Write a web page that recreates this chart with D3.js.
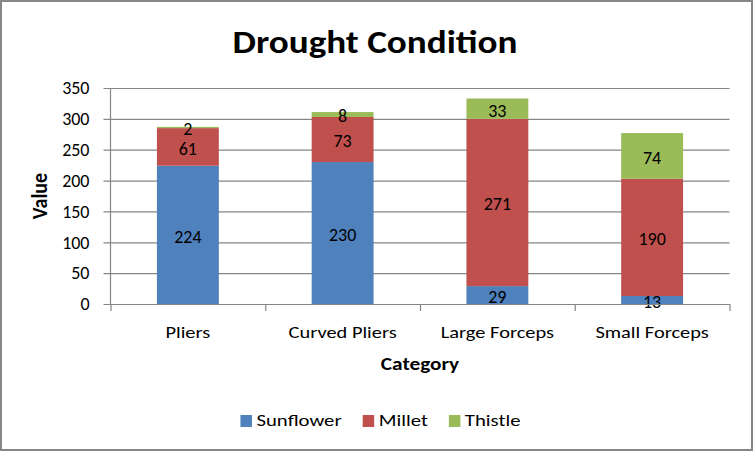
<!DOCTYPE html>
<html>
<head>
<meta charset="utf-8">
<script src="https://cdn.jsdelivr.net/npm/d3@7"></script>
<style>
  html, body { margin: 0; padding: 0; background: #fff; }
  svg { display: block; font-family: "Carlito", "Calibri", "Lato", sans-serif; }
</style>
</head>
<body>
<svg id="chart" width="753" height="451"></svg>
<script>
const categories = ["Pliers", "Curved Pliers", "Large Forceps", "Small Forceps"];
const seriesNames = ["Sunflower", "Millet", "Thistle"];
const sunflower = [224, 230, 29, 13];
const millet = [61, 73, 271, 190];
const thistle = [2, 8, 33, 74];
const yTicks = [0, 50, 100, 150, 200, 250, 300, 350];
const colors = ["#4F81BD", "#C0504D", "#9BBB59"];

const W = 753, H = 451;
const M = { left: 110.5, right: 729.5, top: 88, bottom: 304 };
const FONT = "Carlito, Calibri, Lato, sans-serif";

const svg = d3.select("#chart");
const gray = "#868686";

// horizontal stretch of text glyphs (reference text is widened)
function stretch(sel, sx) {
  sel.each(function () {
    const t = d3.select(this);
    const tx = +t.attr("x") || 0, ty = +t.attr("y") || 0;
    t.attr("x", 0).attr("y", 0).attr("transform", `translate(${tx},${ty}) scale(${sx},1)`);
  });
}

// frame
svg.append("rect").attr("x", 1).attr("y", 1).attr("width", W - 2).attr("height", H - 2)
  .attr("fill", "#fff").attr("stroke", gray).attr("stroke-width", 2);

const rows = categories.map((c, i) => ({ cat: c, Sunflower: sunflower[i], Millet: millet[i], Thistle: thistle[i] }));
const stack = d3.stack().keys(seriesNames)(rows);

const x = d3.scaleBand().domain(categories).range([M.left, M.right]).paddingInner(0.6).paddingOuter(0.3);
const y = d3.scaleLinear().domain([0, 350]).range([M.bottom, M.top]);
const color = d3.scaleOrdinal().domain(seriesNames).range(colors);

// y axis with gridlines
const yAxis = svg.append("g").attr("transform", `translate(${M.left},0)`)
  .call(d3.axisLeft(y).tickValues(yTicks).tickSizeInner(-(M.right - M.left)).tickSizeOuter(0).tickPadding(21));
yAxis.select(".domain").remove();
yAxis.selectAll(".tick line").attr("x1", -7).attr("stroke", gray).attr("stroke-width", 1.2);
yAxis.selectAll(".tick text").attr("font-size", 18).attr("fill", "#000").attr("font-family", FONT);
svg.append("line").attr("x1", M.left).attr("x2", M.left).attr("y1", M.top).attr("y2", M.bottom)
  .attr("stroke", gray).attr("stroke-width", 1.2);

// bars
const layers = svg.append("g").selectAll("g").data(stack).join("g").attr("fill", d => color(d.key));
layers.selectAll("rect").data(d => d).join("rect")
  .attr("x", d => x(d.data.cat))
  .attr("width", x.bandwidth())
  .attr("y", d => y(d[1]))
  .attr("height", d => y(d[0]) - y(d[1]));

// data labels
const lbl = svg.append("g");
stack.forEach(layer => {
  layer.forEach(d => {
    lbl.append("text")
      .attr("x", x(d.data.cat) + x.bandwidth() / 2)
      .attr("y", (y(d[0]) + y(d[1])) / 2)
      .attr("dy", "0.44em")
      .attr("text-anchor", "middle")
      .attr("font-size", 18)
      .attr("fill", "#000")
      .text(d[1] - d[0]);
  });
});

// x axis: boundary ticks
const xb = d3.scaleLinear().domain([0, categories.length]).range([M.left, M.right]);
const xTickAxis = svg.append("g").attr("transform", `translate(0,${M.bottom})`)
  .call(d3.axisBottom(xb).tickValues(d3.range(categories.length + 1)).tickFormat("").tickSizeInner(7).tickSizeOuter(0));
xTickAxis.selectAll("line, path").attr("stroke", gray).attr("stroke-width", 1.2);

// x axis labels
const xAxis = svg.append("g").attr("transform", `translate(0,${M.bottom})`)
  .call(d3.axisBottom(x).tickSize(0).tickPadding(21.5));
xAxis.select(".domain").remove();
const xt = xAxis.selectAll(".tick text").attr("font-size", 17).attr("fill", "#000").attr("font-family", FONT);
stretch(xt, 1.2);

// title
const title = svg.append("text").attr("x", 375).attr("y", 53).attr("text-anchor", "middle")
  .attr("font-size", 31.5).attr("font-weight", "bold").attr("fill", "#000").text("Drought Condition");
stretch(title, 1.18);

// axis titles
const xTitle = svg.append("text").attr("x", 420).attr("y", 370).attr("text-anchor", "middle")
  .attr("font-size", 17).attr("font-weight", "bold").attr("fill", "#000").text("Category");
stretch(xTitle, 1.25);
svg.append("text").attr("transform", "translate(47,196) rotate(-90) scale(1,1.15)").attr("text-anchor", "middle")
  .attr("font-size", 20).attr("font-weight", "bold").attr("fill", "#000").text("Value");

// legend
const LSX = 1.22;
const leg = svg.append("g");
const items = leg.selectAll("g").data(seriesNames).join("g");
items.append("rect").attr("width", 11.5).attr("height", 12).attr("y", -11).attr("fill", d => color(d));
items.append("text").attr("x", 16).attr("font-size", 17).attr("fill", "#000").text(d => d);
let cx = 0;
items.each(function () {
  const g = d3.select(this);
  const tw = g.select("text").node().getComputedTextLength() * LSX;
  g.attr("transform", `translate(${cx},0)`);
  cx += 16 + tw + 21;
});
stretch(items.selectAll("text"), LSX);
const totalW = cx - 21;
leg.attr("transform", `translate(${380.5 - totalW / 2},426)`);
</script>
</body>
</html>
